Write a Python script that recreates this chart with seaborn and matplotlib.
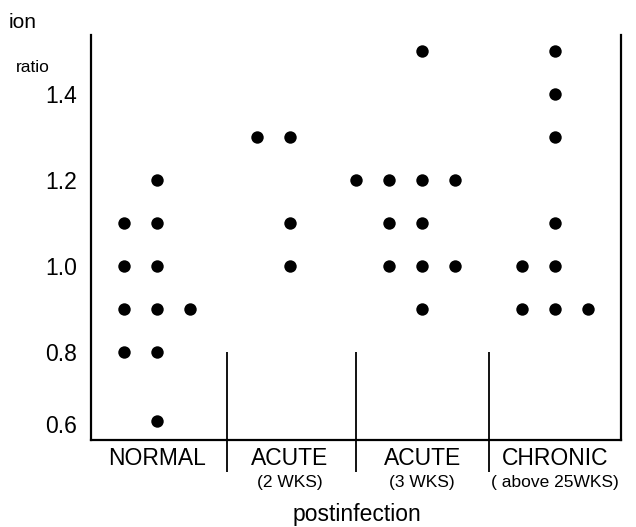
import numpy as np
import pandas as pd
import matplotlib
matplotlib.use("Agg")
import matplotlib.pyplot as plt
import matplotlib.transforms as mtransforms
import seaborn as sns

# Groups along the x axis
groups = ["NORMAL", "ACUTE", "ACUTE", "CHRONIC"]
sublabels = ["", "(2 WKS)", "(3 WKS)", "( above 25WKS)"]
y_ticks = [0.6, 0.8, 1.0, 1.2, 1.4]

# Ratio values per group, with the column slot each dot occupies
normal_vals = [1.1, 1.2, 1.1, 1.0, 1.0, 0.9, 0.9, 0.9, 0.8, 0.8, 0.64]
normal_slot = [-1, 0, 0, -1, 0, -1, 0, 1, -1, 0, 0]
acute2_vals = [1.3, 1.3, 1.1, 1.0]
acute2_slot = [-1, 0, 0, 0]
acute3_vals = [1.5, 1.2, 1.2, 1.2, 1.2, 1.1, 1.1, 1.0, 1.0, 1.0, 0.9]
acute3_slot = [0, -2, -1, 0, 1, -1, 0, -1, 0, 1, 0]
chronic_vals = [1.5, 1.4, 1.3, 1.1, 1.0, 1.0, 0.9, 0.9, 0.9]
chronic_slot = [0, 0, 0, 0, 0, -1, -1, 0, 1]

all_vals = [normal_vals, acute2_vals, acute3_vals, chronic_vals]
all_slots = [normal_slot, acute2_slot, acute3_slot, chronic_slot]

SLOT_WIDTH = 0.25
rows = []
for gi, (vals, slots) in enumerate(zip(all_vals, all_slots)):
    for v, s in zip(vals, slots):
        rows.append({"x": gi + s * SLOT_WIDTH, "ratio": v})
df = pd.DataFrame(rows)

sns.set_style("white")
plt.rcParams["font.family"] = ["Liberation Sans", "DejaVu Sans"]
plt.rcParams["text.color"] = "black"
plt.rcParams["ytick.color"] = "black"
plt.rcParams["ytick.labelcolor"] = "black"

fig = plt.figure(figsize=(6.36, 5.27), dpi=100)
ax = fig.add_axes([91 / 636, 1 - 440 / 527, 530 / 636, 405 / 527])

sns.scatterplot(data=df, x="x", y="ratio", ax=ax, color="black",
                s=80, edgecolor="black", linewidth=0, legend=False)

ax.set_xlim(-0.5, 3.5)
ax.set_ylim(0.595, 1.537)

# Frame: left, bottom and right lines only
for side in ["left", "bottom", "right"]:
    ax.spines[side].set_visible(True)
    ax.spines[side].set_linewidth(1.6)
    ax.spines[side].set_color("black")
ax.spines["top"].set_visible(False)

ax.set_yticks(y_ticks)
ax.set_yticklabels([f"{t:.1f}" for t in y_ticks], fontsize=16.5,
                   color="black")
ax.tick_params(axis="y", length=0, pad=10)
# the lowest label sits a little above the baseline
lowest = ax.get_yticklabels()[0]
lowest.set_transform(lowest.get_transform() +
                     mtransforms.ScaledTranslation(0, 14 / 100,
                                                   fig.dpi_scale_trans))
ax.set_xticks([])
ax.set_xlabel("")
ax.set_ylabel("")

# Group dividers, running from 0.8 down past the bottom line
ax.vlines([0.526, 1.5, 2.5], 0.52, 0.8, colors="black", linewidth=1.3,
          clip_on=False)

# Group names under the axis
for gi, (name, sub) in enumerate(zip(groups, sublabels)):
    ax.text(gi, 0.551, name, ha="center", va="center", fontsize=16.5,
            color="black", clip_on=False)
    if sub:
        ax.text(gi, 0.497, sub, ha="center", va="center", fontsize=12.5,
                color="black", clip_on=False)

fig.text(357 / 636, 1 - 514 / 527, "postinfection", ha="center",
         va="center", fontsize=16.5, color="black")
fig.text(9 / 636, 1 - 22 / 527, "ion", ha="left", va="center",
         fontsize=15, color="black")
fig.text(16 / 636, 1 - 68 / 527, "ratio", ha="left", va="center",
         fontsize=12.5, color="black")

fig.savefig("out.png", dpi=100)
